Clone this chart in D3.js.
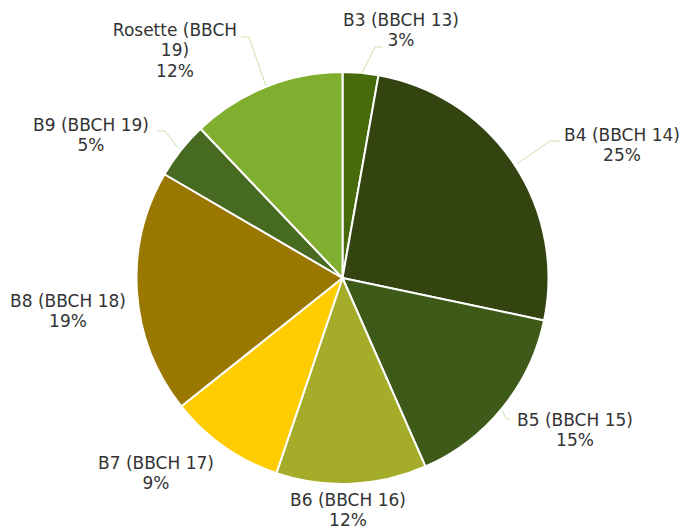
<!DOCTYPE html>
<html><head><meta charset="utf-8">
<script src="https://cdn.jsdelivr.net/npm/d3@7"></script>
<style>body{margin:0;background:#fff}svg{display:block}text{font-family:"DejaVu Sans",Verdana,sans-serif;font-size:17px;fill:#333}</style>
</head><body><svg id="c" width="682" height="530"></svg>
<script>
const categories = ["B3 (BBCH 13)","B4 (BBCH 14)","B5 (BBCH 15)","B6 (BBCH 16)","B7 (BBCH 17)","B8 (BBCH 18)","B9 (BBCH 19)","Rosette (BBCH 19)"];
const values = [2.8, 25.5, 15.1, 11.8, 9.1, 19.1, 4.5, 12.1];
const pctLabels = ["3%","25%","15%","12%","9%","19%","5%","12%"];
const colors = ["#476b0b","#334411","#3d5a18","#a5ac2a","#ffcc00","#997700","#466a1f","#80ae2e"];
// label text lines and placements (layout only)
const labelLines = [["B3 (BBCH 13)"],["B4 (BBCH 14)"],["B5 (BBCH 15)"],["B6 (BBCH 16)"],["B7 (BBCH 17)"],["B8 (BBCH 18)"],["B9 (BBCH 19)"],["Rosette (BBCH","19)"]];
const labelPos = [[401,20],[622,135],[575,420],[348,500],[156,463],[68,301],[91,125],[175,30]];
const leaders = [[[362,73],[375,47],[383,47]],[[517,164],[550,141],[560,141]],[[502,410],[506,419],[510,419]],null,null,null,[[177,147],[165,131],[157,131]],[[266,86],[249,37],[241,37]]];

const svg = d3.select("#c");
const cx = 342.5, cy = 278, r = 206;
const pie = d3.pie().sort(null).value(d=>d)(values);
const arc = d3.arc().innerRadius(0).outerRadius(r);
const g = svg.append("g").attr("transform",`translate(${cx},${cy})`);
g.selectAll("path").data(pie).join("path")
  .attr("d",arc).attr("fill",(d,i)=>colors[i])
  .attr("stroke","#fff").attr("stroke-width",2).attr("stroke-linejoin","round");

const line = d3.line();
leaders.forEach(l=>{ if(l) svg.append("path").attr("d",line(l)).attr("fill","none").attr("stroke","#c8e3a8").attr("stroke-width",1); });

categories.forEach((c,i)=>{
  const lines = labelLines[i].concat([pctLabels[i]]);
  const t = svg.append("text").attr("text-anchor","middle");
  lines.forEach((s,k)=>{
    t.append("tspan").attr("x",labelPos[i][0]).attr("y",labelPos[i][1]+k*20.5).attr("dy","0.35em").text(s);
  });
});
</script></body></html>
